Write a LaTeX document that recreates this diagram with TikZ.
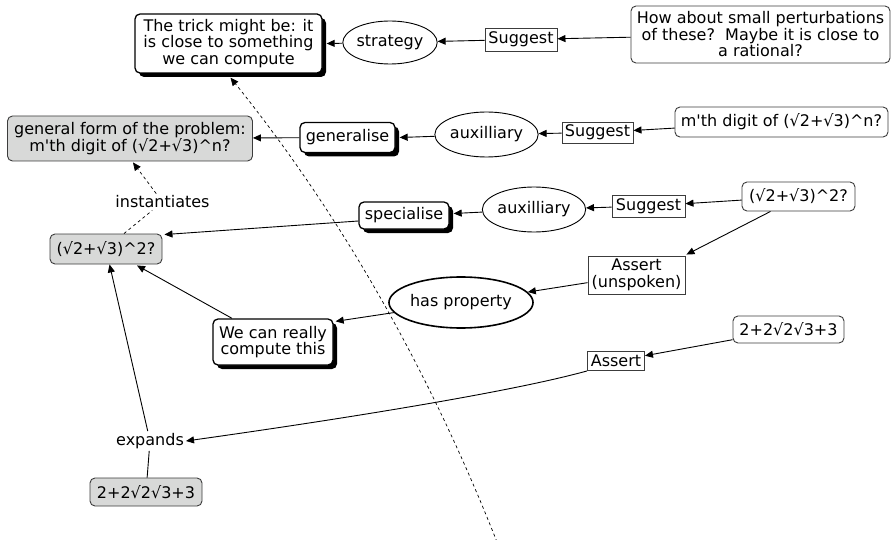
\documentclass[tikz,border=0pt]{standalone}
\usepackage{fontspec}
\setmainfont{DejaVu Sans}[Ligatures=TeXOff]
\usetikzlibrary{shapes.geometric,arrows.meta,shadows,calc}
\definecolor{boxgray}{RGB}{216,217,216}
\definecolor{edgegray}{RGB}{60,60,60}
\begin{document}
\begin{tikzpicture}[x=1pt,y=-1pt,
  font=\fontsize{16}{16.5}\selectfont,
  every node/.style={inner sep=0pt,align=center},
  lw/.style={line width=0.9pt},
  plainbox/.style={draw=edgegray,lw,rounded corners=5pt,fill=white},
  graybox/.style={draw=edgegray,lw,rounded corners=5pt,fill=boxgray},
  shadowbox/.style={draw=black,line width=1.3pt,rounded corners=5pt,fill=white,
    drop shadow={shadow xshift=4pt,shadow yshift=-4pt,fill=black,opacity=1}},
  sqbox/.style={draw=edgegray,lw,fill=white},
  oval/.style={ellipse,draw=black,lw,fill=white},
  lbl/.style={inner sep=2pt},
  conn/.style={lw,-{Triangle[length=8pt,width=7pt]}},
  plain/.style={lw},
  dsh/.style={line width=0.7pt,dash pattern=on 3pt off 3pt}
]
\useasboundingbox (0,0) rectangle (891,540);
\fill[white] (0,0) rectangle (891,540);

% nodes
\node[shadowbox,minimum width=187pt,minimum height=59pt] (trick) at (228.5,43.5)
  {The trick might be: it\\is close to something\\we can compute};
\node[oval,minimum width=85pt,minimum height=43pt] (strat) at (390,42.5) {strategy};
\node[sqbox,minimum width=72pt,minimum height=23pt] (sug1) at (521,39.5) {Suggest};
\node[plainbox,minimum width=259pt,minimum height=57pt] (how) at (760.5,34.5)
  {How about small perturbations\\of these?\ \ Maybe it is close to\\a rational?};

\node[graybox,minimum width=245pt,minimum height=45pt] (general) at (130,138.5)
  {general form of the problem:\\m'th digit of (√2+√3)\textasciicircum n?};
\node[shadowbox,minimum width=95pt,minimum height=30pt] (gen) at (347.5,137.5) {generalise};
\node[oval,minimum width=91pt,minimum height=45pt] (aux1) at (486.5,134.5) {auxilliary};
\node[sqbox,minimum width=71pt,minimum height=21pt] (sug2) at (597.5,132.5) {Suggest};
\node[plainbox,minimum width=213pt,minimum height=30pt] (mth) at (781.5,122)
  {m'th digit of (√2+√3)\textasciicircum n?};

\node[lbl] (inst) at (162.5,202) {instantiates};
\node[shadowbox,minimum width=90pt,minimum height=27pt] (spec) at (404,215.5) {specialise};
\node[oval,minimum width=92pt,minimum height=45pt] (aux2) at (534,209.5) {auxilliary};
\node[sqbox,minimum width=73pt,minimum height=22pt] (sug3) at (648.5,206) {Suggest};
\node[plainbox,minimum width=113pt,minimum height=29pt] (rsq) at (798.5,196.5)
  {(√2+√3)\textasciicircum 2?};

\node[graybox,minimum width=112pt,minimum height=30pt] (lsq) at (106,249)
  {(√2+√3)\textasciicircum 2?};
\node[sqbox,minimum width=97pt,minimum height=38pt] (as1) at (636.5,275)
  {Assert\\(unspoken)};
\node[oval,line width=1.6pt,minimum width=118pt,minimum height=51pt] (prop) at (461,302.5)
  {has property};
\node[shadowbox,minimum width=120pt,minimum height=46pt] (wecan) at (273,342)
  {We can really\\compute this};

\node[plainbox,minimum width=111pt,minimum height=27pt] (r22) at (788.5,329.5)
  {2+2√2√3+3};
\node[sqbox,minimum width=57pt,minimum height=19pt] (as2) at (616,361) {Assert};
\node[lbl] (exp) at (150,441) {expands};
\node[graybox,minimum width=112pt,minimum height=28pt] (l22) at (146,492)
  {2+2√2√3+3};
\coordinate (dashend) at (497,542);

% connectors
\draw[conn] (strat) -- ($(trick.east)+(4,0)$);
\draw[conn] (sug1) -- (strat);
\draw[conn] (how) -- (sug1);
\draw[conn] (gen) -- (general);
\draw[conn] (aux1) -- ($(gen.east)+(4,0)$);
\draw[conn] (sug2) -- (aux1);
\draw[conn] (mth) -- (sug2);
\draw[conn] ($(spec.west)+(0,5.5)$) -- ($(lsq.north east)+(2,1)$);
\draw[conn] (aux2) -- ($(spec.east)+(4,-2)$);
\draw[conn] (sug3) -- (aux2);
\draw[conn] (rsq) -- (sug3);
\draw[conn] ($(rsq.south)+(-28,0)$) -- ($(as1.north east)+(1,-1)$);
\draw[conn] (as1) -- (prop);
\draw[conn] (prop) -- ($(wecan.north east)+(2,3)$);
\draw[conn] ($(wecan.north)+(-41,0)$) -- ($(lsq.south)+(31,1)$);
\draw[conn] (r22) -- (as2);
\draw[conn] (as2.south west) .. controls (500,395) and (300,425) .. (exp.east);
\draw[plain] (l22) -- (exp);
\draw[conn] (exp) -- (lsq);
\draw[dsh] ($(lsq.north)+(18,0)$) -- (inst);
\draw[dsh,-{Triangle[length=8pt,width=7pt]}] (inst) -- ($(general.south)+(3,1)$);
\draw[dsh,-{Triangle[length=8pt,width=7pt]}] (dashend) .. controls (427.7,366.7) and (338.7,212) .. ($(trick.south)+(2,4)$);
\end{tikzpicture}
\end{document}
